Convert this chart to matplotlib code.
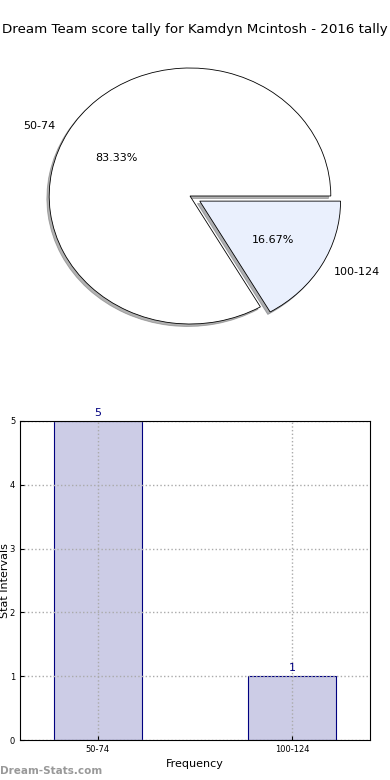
import matplotlib
matplotlib.use("Agg")
import matplotlib.pyplot as plt
import numpy as np

# data
pie_labels = ["50-74", "100-124"]
pie_values = [5, 1]
pie_colors = ["#ffffff", "#eaf0fd"]
bar_labels = ["50-74", "100-124"]
bar_values = [5, 1]
title = "Dream Team score tally for Kamdyn Mcintosh - 2016 tally"

fig = plt.figure(figsize=(3.9, 7.8), dpi=100)
fig.text(0.5, 1 - 30 / 780, title, ha="center", va="center", fontsize=9.6)

# pie (stretched, not circular)
ax1 = fig.add_axes([14 / 390, 1 - 356 / 780, 352 / 390, 320 / 780])
wedges, texts, autotexts = ax1.pie(
    pie_values, labels=pie_labels, colors=pie_colors, explode=[0, 0.08],
    autopct="%.2f%%", shadow={"ox": -0.012, "oy": -0.014, "shade": 0.6},
    startangle=0,
    wedgeprops=dict(edgecolor="black", linewidth=0.6),
    textprops=dict(fontsize=8))
ax1.set_aspect("auto")
ax1.set_xlim(-1.25, 1.25)
ax1.set_ylim(-1.25, 1.25)

# bars
ax2 = fig.add_axes([20 / 390, 1 - 740 / 780, 350 / 390, 319 / 780])
x = np.arange(len(bar_labels))
ax2.bar(x, bar_values, 0.45, color="#ccccE6", edgecolor="navy", linewidth=0.8, zorder=2)
for xi, v in zip(x, bar_values):
    ax2.text(xi, v + 0.05, str(v), ha="center", va="bottom", color="navy", fontsize=8)
ax2.set_xlim(-0.4, 1.4)
ax2.set_ylim(0, 5)
ax2.set_xticks(x)
ax2.set_xticklabels(bar_labels)
ax2.set_yticks(range(6))
ax2.tick_params(labelsize=6, direction="in", length=3)
ax2.set_axisbelow(False)
ax2.grid(True, linestyle=":", color="#aaaaaa", linewidth=1)
for sp in ax2.spines.values():
    sp.set_zorder(5)
ax2.set_xlabel("Frequency", fontsize=8, labelpad=4)
ax2.set_ylabel("Stat Intervals", fontsize=8)
ax2.yaxis.set_label_coords(-0.028, 0.5)

fig.text(0.0, 1 - 771 / 780, "Dream-Stats.com", ha="left", va="center",
         fontsize=7.5, color="#999999", fontweight="bold")

fig.savefig("out.png", dpi=100)
